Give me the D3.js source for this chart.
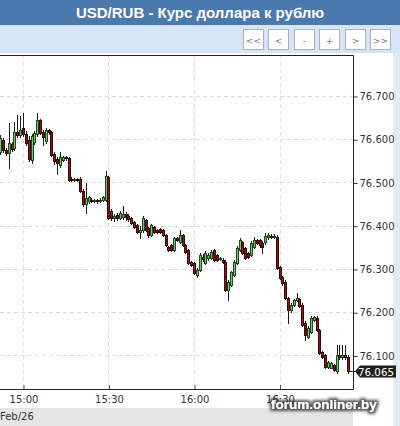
<!DOCTYPE html>
<html><head><meta charset="utf-8">
<script src="https://cdn.jsdelivr.net/npm/d3@7"></script>
<style>body{margin:0;background:#fff;}svg{display:block}</style>
</head><body><svg id="c" width="400" height="426"></svg>
<script>
const title = "USD/RUB - Курс доллара к рублю";
const dateLabel = "Feb/26";
const firstCandle = "2016-02-26 14:52";
const buttons = ["<<", "<", "-", "+", ">", ">>"];
const yTicks = [76.1, 76.2, 76.3, 76.4, 76.5, 76.6, 76.7];
const xTicks = ["2016-02-26 15:00", "2016-02-26 15:30", "2016-02-26 16:00", "2016-02-26 16:30"];
const lastPrice = 76.065;
const watermark = "forum.onliner.by";

const openP = [76.571,76.598,76.575,76.568,76.589,76.580,76.617,76.610,76.626,76.612,
76.598,76.552,76.594,76.612,76.645,76.617,76.596,76.621,76.617,76.566,
76.555,76.541,76.552,76.559,76.557,76.508,76.506,76.508,76.508,76.481,
76.451,76.458,76.460,76.458,76.460,76.458,76.460,76.460,76.513,76.434,
76.418,76.425,76.418,76.421,76.428,76.423,76.418,76.409,76.402,76.386,
76.391,76.414,76.395,76.379,76.397,76.391,76.393,76.391,76.379,76.351,
76.356,76.344,76.372,76.363,76.379,76.356,76.344,76.317,76.314,76.287,
76.298,76.328,76.314,76.326,76.326,76.344,76.333,76.324,76.321,76.317,
76.252,76.264,76.287,76.314,76.344,76.363,76.349,76.337,76.333,76.351,
76.367,76.367,76.361,76.363,76.374,76.377,76.374,76.374,76.305,76.282,
76.270,76.233,76.206,76.217,76.229,76.231,76.217,76.176,76.143,76.155,
76.183,76.187,76.160,76.109,76.102,76.074,76.072,76.079,76.063,76.100,
76.097,76.100,76.097];
const highP = [76.610,76.603,76.580,76.638,76.594,76.640,76.656,76.654,76.661,76.619,
76.608,76.612,76.619,76.661,76.647,76.621,76.626,76.624,76.619,76.571,
76.559,76.571,76.561,76.561,76.559,76.513,76.511,76.511,76.513,76.485,
76.499,76.469,76.464,76.462,76.462,76.464,76.469,76.527,76.515,76.439,
76.428,76.430,76.434,76.446,76.432,76.428,76.421,76.411,76.404,76.400,
76.423,76.416,76.397,76.404,76.400,76.393,76.395,76.393,76.381,76.354,
76.358,76.374,76.374,76.391,76.381,76.358,76.347,76.319,76.317,76.303,
76.337,76.335,76.342,76.337,76.344,76.347,76.335,76.328,76.326,76.321,
76.275,76.296,76.321,76.354,76.372,76.365,76.351,76.340,76.365,76.374,
76.370,76.370,76.365,76.384,76.384,76.381,76.381,76.379,76.307,76.284,
76.275,76.236,76.222,76.231,76.245,76.233,76.222,76.180,76.169,76.192,
76.192,76.192,76.162,76.111,76.104,76.088,76.086,76.081,76.125,76.125,
76.125,76.125,76.102];
const lowP = [76.566,76.571,76.564,76.534,76.573,76.575,76.605,76.605,76.608,76.587,
76.550,76.545,76.589,76.608,76.612,76.587,76.591,76.612,76.561,76.543,
76.520,76.536,76.550,76.552,76.504,76.504,76.504,76.504,76.478,76.446,
76.430,76.453,76.455,76.455,76.453,76.455,76.458,76.458,76.416,76.414,
76.411,76.414,76.416,76.416,76.414,76.411,76.404,76.395,76.384,76.372,
76.386,76.388,76.374,76.377,76.384,76.384,76.384,76.377,76.354,76.342,
76.342,76.342,76.365,76.361,76.354,76.337,76.312,76.307,76.289,76.282,
76.296,76.319,76.312,76.321,76.324,76.319,76.319,76.321,76.314,76.250,
76.229,76.261,76.284,76.312,76.342,76.335,76.324,76.326,76.330,76.349,
76.358,76.351,76.337,76.358,76.370,76.372,76.372,76.300,76.277,76.264,
76.231,76.176,76.201,76.215,76.227,76.213,76.169,76.136,76.141,76.153,
76.180,76.157,76.104,76.095,76.072,76.072,76.070,76.065,76.060,76.093,
76.093,76.093,76.060];
const closeP = [76.603,76.575,76.568,76.591,76.578,76.617,76.610,76.621,76.612,76.591,
76.555,76.608,76.615,76.645,76.615,76.605,76.621,76.617,76.564,76.550,
76.545,76.559,76.559,76.557,76.506,76.506,76.508,76.506,76.481,76.451,
76.464,76.467,76.458,76.460,76.458,76.460,76.467,76.515,76.418,76.418,
76.423,76.418,76.430,76.428,76.421,76.416,76.407,76.397,76.386,76.391,
76.418,76.391,76.379,76.402,76.386,76.386,76.386,76.379,76.356,76.344,
76.344,76.372,76.367,76.379,76.356,76.340,76.314,76.310,76.291,76.298,
76.333,76.324,76.337,76.333,76.340,76.321,76.321,76.326,76.317,76.252,
76.270,76.294,76.317,76.349,76.367,76.337,76.326,76.328,76.361,76.367,
76.361,76.356,76.351,76.377,76.379,76.374,76.377,76.303,76.280,76.268,
76.233,76.206,76.217,76.229,76.233,76.215,76.171,76.148,76.164,76.187,
76.190,76.160,76.106,76.097,76.074,76.086,76.083,76.067,76.102,76.097,
76.100,76.097,76.065];

const parse = d3.timeParse("%Y-%m-%d %H:%M");
const t0 = parse(firstCandle);
const candles = openP.map((o, i) => ({
  t: d3.timeMinute.offset(t0, i), o, h: highP[i], l: lowP[i], c: closeP[i]
}));

const svg = d3.select("#c");
const W = 400, H = 426;
const plot = {x0: 0, x1: 353, y0: 55, y1: 389};

// backgrounds
svg.append("rect").attr("width", W).attr("height", H).attr("fill", "#ffffff");
svg.append("rect").attr("x", 393).attr("y", 25).attr("width", 7).attr("height", H - 25).attr("fill", "#e2eaf5");
svg.append("rect").attr("x", 0).attr("y", 0).attr("width", W).attr("height", 25).attr("fill", "#4a79ae");
svg.append("rect").attr("x", 0).attr("y", 25).attr("width", W).attr("height", 28).attr("fill", "#d5e4f6");
svg.append("rect").attr("x", 0).attr("y", 408).attr("width", 353).attr("height", 18).attr("fill", "#e5e5e5");

svg.append("text").attr("x", 200).attr("y", 18).attr("text-anchor", "middle")
  .attr("font-family", "Liberation Sans, Arial, sans-serif").attr("font-weight", "bold")
  .attr("font-size", 15).attr("fill", "#ffffff").text(title);

// buttons
const bx = d3.scaleBand().domain(buttons).range([243, 390]).paddingInner(0.22);
const bg = svg.append("g").selectAll("g").data(buttons).join("g")
  .attr("transform", d => `translate(${Math.round(bx(d)) + 0.5},29.5)`);
bg.append("rect").attr("width", Math.round(bx.bandwidth())).attr("height", 20)
  .attr("fill", "#ffffff").attr("stroke", "#a9b3bf");
bg.append("text").attr("x", bx.bandwidth() / 2).attr("y", 14).attr("text-anchor", "middle")
  .attr("font-family", "DejaVu Sans, sans-serif").attr("font-size", 9).attr("fill", "#777")
  .text(d => d);

// scales
const x = d3.scaleTime()
  .domain([new Date(2016, 1, 26, 14, 51, 56), new Date(2016, 1, 26, 16, 55, 47)])
  .range([plot.x0, plot.x1]);
const y = d3.scaleLinear().domain([76.0225, 76.7947]).range([plot.y1, plot.y0]);

// plot background
svg.append("rect").attr("x", plot.x0).attr("y", plot.y0).attr("width", plot.x1 - plot.x0)
  .attr("height", plot.y1 - plot.y0).attr("fill", "#ffffff");

svg.append("clipPath").attr("id", "clip").append("rect")
  .attr("x", plot.x0).attr("y", plot.y0).attr("width", plot.x1 - plot.x0).attr("height", plot.y1 - plot.y0);

const grid = svg.append("g").attr("clip-path", "url(#clip)");
grid.selectAll("line.h").data(yTicks).join("line")
  .attr("x1", plot.x0).attr("x2", plot.x1)
  .attr("y1", d => Math.round(y(d)) + 0.5).attr("y2", d => Math.round(y(d)) + 0.5)
  .attr("stroke", "#dcdcdc").attr("stroke-dasharray", "4,3");
const xt = xTicks.map(parse);
grid.selectAll("line.v").data(xt).join("line")
  .attr("y1", plot.y0).attr("y2", plot.y1)
  .attr("x1", d => Math.round(x(d)) + 0.5).attr("x2", d => Math.round(x(d)) + 0.5)
  .attr("stroke", "#dcdcdc").attr("stroke-dasharray", "4,3");

// candles
const up = d => d.c >= d.o;
const cg = svg.append("g").attr("clip-path", "url(#clip)");
const cs = cg.selectAll("g").data(candles).join("g");
cs.append("line")
  .attr("x1", d => Math.round(x(d.t)) + 0.5).attr("x2", d => Math.round(x(d.t)) + 0.5)
  .attr("y1", d => Math.round(y(d.h))).attr("y2", d => Math.round(y(d.l)) + 1)
  .attr("stroke", "#1a1a1a");
cs.append("rect")
  .attr("x", d => Math.round(x(d.t)) - 0.5)
  .attr("y", d => Math.round(y(Math.max(d.o, d.c))) + 0.5)
  .attr("width", 2)
  .attr("height", d => Math.max(1, Math.round(y(Math.min(d.o, d.c))) - Math.round(y(Math.max(d.o, d.c)))))
  .attr("fill", d => up(d) ? "#66cc66" : "#8c1515")
  .attr("stroke", d => up(d) ? "#1e4a1e" : "#3a0505");

// border
svg.append("path")
  .attr("d", `M${plot.x0},${plot.y0 + 0.5}H${plot.x1 + 0.5}V${plot.y1 + 0.5}H${plot.x0}`)
  .attr("fill", "none").attr("stroke", "#222");

// y axis
const yAxis = d3.axisRight(y).tickValues(yTicks).tickFormat(d3.format(".3f")).tickSize(4).tickPadding(2);
const ya = svg.append("g").attr("transform", `translate(${plot.x1 + 0.5},0.5)`).call(yAxis);
ya.select(".domain").remove();
ya.selectAll("line").attr("stroke", "#333");
ya.selectAll("text").attr("font-family", "DejaVu Sans, sans-serif").attr("font-size", 10).attr("fill", "#333");

// x axis
const xAxis = d3.axisTop(x).tickValues(xt).tickFormat(d3.timeFormat("%H:%M")).tickSize(4);
const xa = svg.append("g").attr("transform", `translate(0.5,${plot.y1})`).call(xAxis);
xa.select(".domain").remove();
xa.selectAll("line").attr("stroke", "#555");
xa.selectAll("text").attr("y", 14).attr("dy", 0)
  .attr("font-family", "DejaVu Sans, sans-serif").attr("font-size", 10).attr("fill", "#333");

svg.append("text").attr("x", 0).attr("y", 420)
  .attr("font-family", "DejaVu Sans, sans-serif").attr("font-size", 10).attr("fill", "#333").text(dateLabel);

// last price label
const yl = Math.round(y(lastPrice)) + 0.5;
svg.append("line").attr("x1", plot.x1 - 4).attr("x2", plot.x1 + 4).attr("y1", yl).attr("y2", yl).attr("stroke", "#222");
svg.append("path")
  .attr("d", `M${plot.x1 + 2},${yl}L${plot.x1 + 7},${yl - 6}H396V${yl + 6}H${plot.x1 + 7}Z`)
  .attr("fill", "#1e1e1e");
svg.append("text").attr("x", plot.x1 + 5).attr("y", yl + 4)
  .attr("font-family", "DejaVu Sans, sans-serif").attr("font-size", 10).attr("fill", "#fff")
  .attr("textLength", 36).attr("lengthAdjust", "spacingAndGlyphs")
  .text(d3.format(".3f")(lastPrice));

// watermark (single text with shadow filter)
const f = svg.append("defs").append("filter").attr("id", "shadow")
  .attr("x", "-20%").attr("y", "-60%").attr("width", "140%").attr("height", "220%");
f.append("feMorphology").attr("in", "SourceAlpha").attr("operator", "dilate").attr("radius", 1.5).attr("result", "d");
f.append("feGaussianBlur").attr("in", "d").attr("stdDeviation", 1.8).attr("result", "b");
f.append("feFlood").attr("flood-color", "#2a2a2a").attr("flood-opacity", 0.8).attr("result", "c");
f.append("feComposite").attr("in", "c").attr("in2", "b").attr("operator", "in").attr("result", "s");
const fm = f.append("feMerge");
fm.append("feMergeNode").attr("in", "s");
fm.append("feMergeNode").attr("in", "SourceGraphic");
svg.append("text").attr("x", 324).attr("y", 409).attr("text-anchor", "middle")
  .attr("font-family", "Liberation Sans, Arial, sans-serif").attr("font-weight", "bold").attr("font-size", 13.5)
  .attr("fill", "#ffffff").attr("filter", "url(#shadow)").text(watermark);
</script></body></html>
